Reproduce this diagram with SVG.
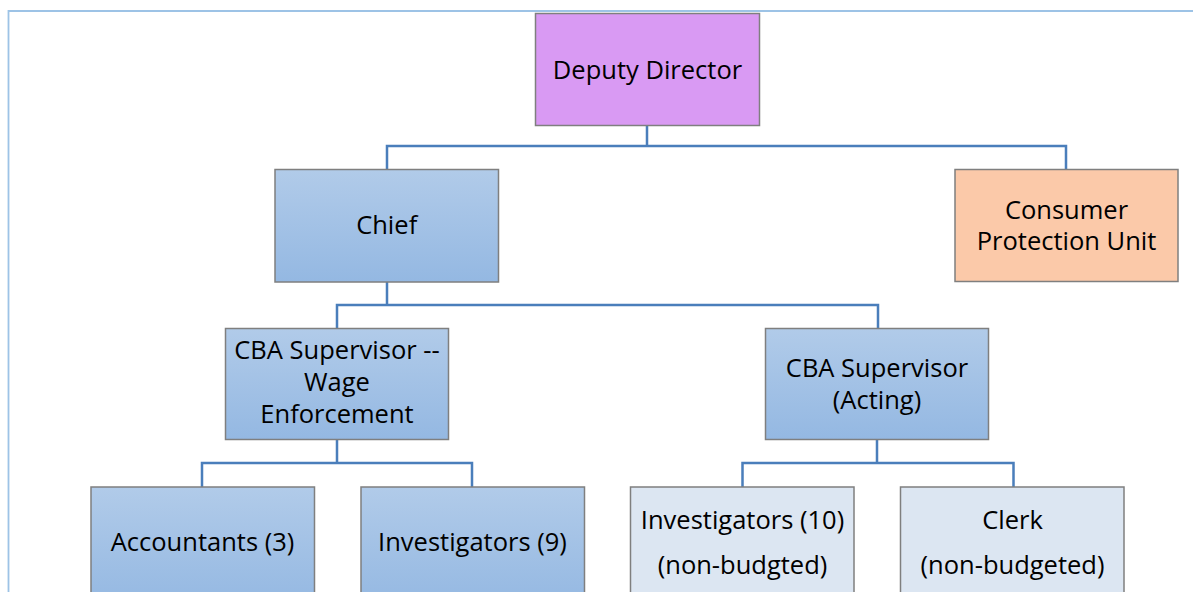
<svg xmlns="http://www.w3.org/2000/svg" width="1193" height="592" viewBox="0 0 1193 592">
  <defs>
    <linearGradient id="blueGrad" x1="0" y1="0" x2="0" y2="1">
      <stop offset="0" stop-color="#b1cbe9"/>
      <stop offset="1" stop-color="#94b8e2"/>
    </linearGradient>
    <style>
      .box { stroke: #7f7f7f; stroke-width: 1.5; }
      .blue { fill: url(#blueGrad); }
      .light { fill: #dce6f2; }
      .dd { fill: #d99af3; }
      .cpu { fill: #fbc9a9; }
      .lbl { font-family: "Open Sans", "Liberation Sans", sans-serif; font-size: 25.5px; fill: #000; text-anchor: middle; }
      .conn { fill: none; stroke: #4a7ebb; stroke-width: 2.5; }
      .frame { fill: none; stroke: #9dc3e6; stroke-width: 1.8; }
    </style>
  </defs>
  <rect width="1193" height="592" fill="#ffffff"/>
  <path class="frame" d="M8.5,592 V11 H1193"/>

  <g id="connectors">
    <path class="conn" d="M647,125 V146 M387,169 V146 H1066 V169"/>
    <path class="conn" d="M387,282 V305 M337,328 V305 H878 V328"/>
    <path class="conn" d="M337,439 V463 M202,487 V463 H472 V487"/>
    <path class="conn" d="M877,439 V463 M742.5,487 V463 H1013.5 V487"/>
  </g>

  <g id="deputy-director">
    <rect class="box dd" x="535.5" y="13.5" width="224" height="112"/>
    <text class="lbl" x="647.5" y="78.5">Deputy Director</text>
  </g>
  <g id="chief">
    <rect class="box blue" x="275" y="169.5" width="223.5" height="112.5"/>
    <text class="lbl" x="386.7" y="233.5">Chief</text>
  </g>
  <g id="consumer-protection-unit">
    <rect class="box cpu" x="955" y="169.5" width="223" height="112"/>
    <text class="lbl" x="1066.5" y="218.5">Consumer</text>
    <text class="lbl" x="1066.5" y="249.5">Protection Unit</text>
  </g>
  <g id="cba-supervisor-wage">
    <rect class="box blue" x="225.5" y="328.5" width="223" height="111"/>
    <text class="lbl" x="337" y="358.5">CBA Supervisor --</text>
    <text class="lbl" x="337" y="390.5">Wage</text>
    <text class="lbl" x="337" y="422.5">Enforcement</text>
  </g>
  <g id="cba-supervisor-acting">
    <rect class="box blue" x="765.5" y="328.5" width="223" height="111"/>
    <text class="lbl" x="877" y="376.5">CBA Supervisor</text>
    <text class="lbl" x="877" y="408.5">(Acting)</text>
  </g>
  <g id="accountants">
    <rect class="box blue" x="91" y="487" width="223.5" height="120"/>
    <text class="lbl" x="202.5" y="551">Accountants (3)</text>
  </g>
  <g id="investigators-9">
    <rect class="box blue" x="361" y="487" width="223.5" height="120"/>
    <text class="lbl" x="472.5" y="551">Investigators (9)</text>
  </g>
  <g id="investigators-10">
    <rect class="box light" x="630.5" y="487" width="223.5" height="120"/>
    <text class="lbl" x="742.5" y="529">Investigators (10)</text>
    <text class="lbl" x="742.5" y="573.5">(non-budgted)</text>
  </g>
  <g id="clerk">
    <rect class="box light" x="900.5" y="487" width="223.5" height="120"/>
    <text class="lbl" x="1012.5" y="529">Clerk</text>
    <text class="lbl" x="1012.5" y="573.5">(non-budgeted)</text>
  </g>
</svg>
